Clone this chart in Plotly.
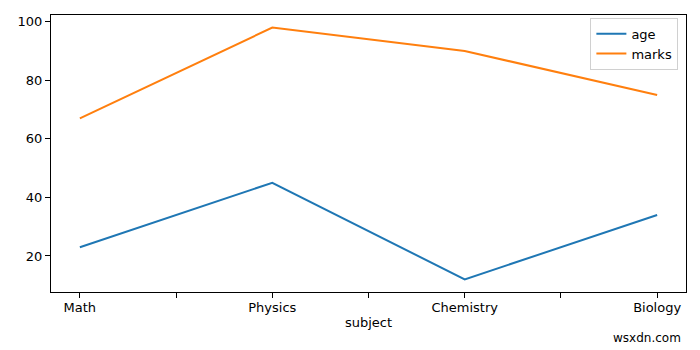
import plotly.graph_objects as go

subjects = ["Math", "Physics", "Chemistry", "Biology"]
age = [23, 45, 12, 34]
marks = [67, 98, 90, 75]
y_ticks = [20, 40, 60, 80, 100]

xpos = list(range(len(subjects)))
tickvals = []
ticktext = []
for i, s in enumerate(subjects):
    tickvals.append(i)
    ticktext.append(s)
    if i < len(subjects) - 1:
        tickvals.append(i + 0.5)
        ticktext.append("")

fig = go.Figure()
fig.add_trace(go.Scatter(x=xpos, y=age, mode="lines", name="age",
                         line=dict(color="#1f77b4", width=2)))
fig.add_trace(go.Scatter(x=xpos, y=marks, mode="lines", name="marks",
                         line=dict(color="#ff7f0e", width=2)))

ymin = min(min(age), min(marks))
ymax = max(max(age), max(marks))
pad = (ymax - ymin) * 0.05
n = len(subjects) - 1

fig.update_layout(
    width=700, height=350,
    margin=dict(l=51, r=14, t=15, b=58),
    paper_bgcolor="white", plot_bgcolor="white",
    font=dict(family="DejaVu Sans", size=13, color="black"),
    showlegend=True,
    legend=dict(x=0.988, y=0.99, xanchor="right", yanchor="top",
                bordercolor="#d0d0d0", borderwidth=1, bgcolor="rgba(255,255,255,0.8)",
                font=dict(size=13), tracegroupgap=0, itemwidth=30),
    xaxis=dict(range=[-0.05 * n, n + 0.05 * n], tickvals=tickvals, ticktext=ticktext,
               tickfont=dict(size=13), ticklabelstandoff=-2,
               showgrid=False, zeroline=False, showline=True, linecolor="black",
               linewidth=1, mirror=True, ticks="outside", ticklen=5, tickcolor="black",
               title=dict(text="subject", standoff=4, font=dict(size=13))),
    yaxis=dict(range=[ymin - pad, ymax + pad], tickvals=y_ticks, tickfont=dict(size=13),
               showgrid=False, zeroline=False, showline=True, linecolor="black",
               linewidth=1, mirror=True, ticks="outside", ticklen=5, tickcolor="black"),
    annotations=[dict(text="wsxdn.com", xref="paper", yref="paper", x=0.995, y=-0.166,
                      xanchor="right", yanchor="middle", showarrow=False,
                      font=dict(size=12, color="black"))],
)

fig.write_html("out.html")
